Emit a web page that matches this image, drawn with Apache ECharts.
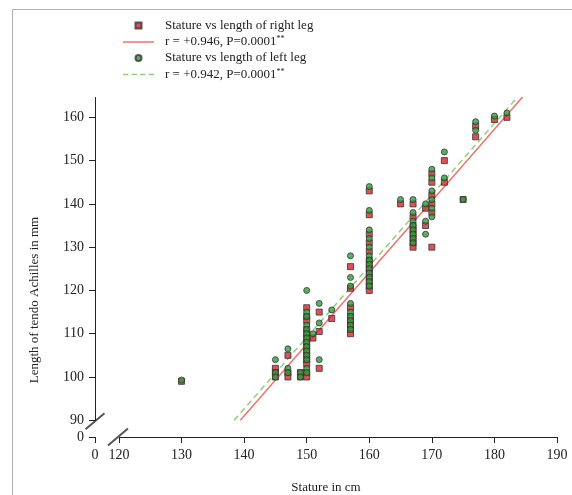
<!DOCTYPE html>
<html>
<head>
<meta charset="utf-8">
<script src="https://cdn.jsdelivr.net/npm/echarts@6/dist/echarts.min.js"></script>
<style>html,body{margin:0;padding:0;background:#fff}#c{width:572px;height:495px}</style>
</head>
<body>
<div id="c"></div>
<script>
// Right leg data (stature cm, tendo Achilles mm)
const rightStature = [130,145,145,145,147,147,147,149,149,
  150,150,150,150,150,150,150,150,150,150,150,150,150,150,
  151,152,152,152,154,157,157,157,157,157,157,157,157,
  160,160,160,160,160,160,160,160,160,160,160,160,160,
  165,167,167,167,167,167,167,167,167,169,169,
  170,170,170,170,170,170,172,172,175,177,177,180,182];
const rightLength = [99,102,101,100,105,101,100,101,100,
  116,114,113,111,110,109,108,107,106,105,104,103,101,100,
  109,115,110.5,102,113.5,125.5,120.5,116,114,113,112,111,110,
  143,137.5,133,131,129,127,126,125,124,123,122,121,120,
  140,140,137,135,134,133,132,131,130,139,135,
  147,145,142,140,138,130,150,145,141,158,155.5,159.5,160];
// Left leg data
const leftStature = [130,145,145,145,147,147,147,149,149,
  150,150,150,150,150,150,150,150,150,150,150,150,150,150,
  151,152,152,152,154,157,157,157,157,157,157,157,157,157,
  160,160,160,160,160,160,160,160,160,160,160,160,160,
  165,167,167,167,167,167,167,167,167,169,169,169,
  170,170,170,170,170,170,172,172,175,177,177,180,182];
const leftLength = [99.3,104,101,100,106.5,102,101,101,100,
  120,115,114,112,111,110,109,108,107,106,105,104,102,101,
  110,117,112.5,104,115.5,128,123,121,117,115,114,113,112,111,
  144,138.5,134,132,130,128,127,126,125,124,123,122,121,
  141,141,138,136,135,134,133,132,131,140,136,133,
  148,146,143,141,139,137,152,146,141,159,157,160.3,161];
// Regression line end points
const rightFitX = [139.4, 184.5];
const rightFitY = [90, 164.7];
const leftFitX = [138.4, 183.7];
const leftFitY = [90, 164.7];
// Tick values
const xTicks = [0,120,130,140,150,160,170,180,190];
const yTicks = [0,90,100,110,120,130,140,150,160];

const names = ['Stature vs length of right leg', 'r = +0.946, P=0.0001**',
               'Stature vs length of left leg', 'r = +0.942, P=0.0001**'];
const zip = (a, b) => a.map((v, i) => [v, b[i]]);
const serif = '"Liberation Serif", "DejaVu Serif", serif';

const chart = echarts.init(document.getElementById('c'), null, {renderer: 'canvas'});
const option = {
  animation: false,
  backgroundColor: '#fff',
  textStyle: {fontFamily: serif},
  grid: {left: 95, right: 15, top: 97, bottom: 58, containLabel: false, outerBoundsMode: 'none'},
  legend: {
    orient: 'vertical', left: 118, top: 14,
    itemWidth: 31, itemHeight: 6, itemGap: 3,
    data: [
      {name: names[0], icon: 'path://M0,0h10v10h-10z'},
      {name: names[1], icon: 'path://M0,0h31v1.5h-31z', itemStyle: {color: '#f07070', borderWidth: 0}},
      {name: names[2], icon: 'circle'},
      {name: names[3], icon: 'path://M0,0h5v1.5h-5zM8,0h5v1.5h-5zM16,0h5v1.5h-5zM24,0h5v1.5h-5z', itemStyle: {color: '#90d07a', borderWidth: 0}}
    ],
    textStyle: {fontFamily: serif, fontSize: 13, color: '#222', padding: [0, 0, 0, 6],
      rich: {sup: {fontFamily: serif, fontSize: 8, color: '#222', verticalAlign: 'top', padding: [0, 0, 6, 0]}}},
    formatter: n => n.replace('**', '{sup|**}')
  },
  xAxis: {
    type: 'value', min: 0, max: 190, interval: 10,
    breaks: [{start: 0, end: 120, gap: 3.83}],
    breakArea: {show: false},
    splitLine: {show: false},
    axisLine: {show: true, onZero: false, lineStyle: {color: '#222', width: 1}},
    axisTick: {show: true, length: 6, lineStyle: {color: '#222'}, customValues: xTicks},
    axisLabel: {fontFamily: serif, fontSize: 14, color: '#222', margin: 11, customValues: xTicks},
    name: 'Stature in cm', nameLocation: 'middle', nameGap: 44,
    nameTextStyle: {fontFamily: serif, fontSize: 13, color: '#222'}
  },
  yAxis: {
    type: 'value', min: 0, max: 164.7, interval: 10,
    breaks: [{start: 0, end: 90, gap: 3.87}],
    breakArea: {show: false},
    splitLine: {show: false},
    axisLine: {show: true, onZero: false, lineStyle: {color: '#222', width: 1}},
    axisTick: {show: true, length: 6, lineStyle: {color: '#222'}, customValues: yTicks},
    axisLabel: {fontFamily: serif, fontSize: 14, color: '#222', margin: 11, customValues: yTicks}
  },
  series: [
    {name: names[0], type: 'scatter', symbol: 'rect', symbolSize: 6,
     itemStyle: {color: '#d6252e', borderColor: '#333', borderWidth: 1},
     data: zip(rightStature, rightLength), z: 3},
    {name: names[1], type: 'line', showSymbol: false, symbol: 'none',
     lineStyle: {color: '#f07070', width: 1.5},
     itemStyle: {color: '#f07070'},
     data: zip(rightFitX, rightFitY), z: 2},
    {name: names[2], type: 'scatter', symbol: 'circle', symbolSize: 6,
     itemStyle: {color: '#2e9e3a', borderColor: '#333', borderWidth: 1},
     data: zip(leftStature, leftLength), z: 4},
    {name: names[3], type: 'line', showSymbol: false, symbol: 'none',
     lineStyle: {color: '#90d07a', width: 1.5, type: [6, 4]},
     itemStyle: {color: '#90d07a'},
     data: zip(leftFitX, leftFitY), z: 2}
  ]
};
chart.setOption(option);

// Break marks and frame
const x120 = chart.convertToPixel({xAxisIndex: 0}, 120);
const x0 = chart.convertToPixel({xAxisIndex: 0}, 0);
const y90 = chart.convertToPixel({yAxisIndex: 0}, 90);
const y0 = chart.convertToPixel({yAxisIndex: 0}, 0);
const sx = x120 - 1, sy = y0;
const tx = x0, ty = y90 + 1;
chart.setOption({
  graphic: [
    {type: 'rect', shape: {x: 12.5, y: 9.5, width: 700, height: 700}, style: {fill: 'none', stroke: '#b0b0b0', lineWidth: 1}, silent: true},
    {type: 'line', shape: {x1: sx - 10, y1: sy + 8.5, x2: sx + 10, y2: sy - 8.5}, style: {stroke: '#555', lineWidth: 2}, silent: true},
    {type: 'line', shape: {x1: tx - 9.5, y1: ty + 8, x2: tx + 9.5, y2: ty - 8}, style: {stroke: '#555', lineWidth: 2}, silent: true},
    {type: 'text', x: 35, y: 300, rotation: Math.PI / 2,
     style: {text: 'Length of tendo Achilles in mm', font: '13px ' + serif, fill: '#222', align: 'center', verticalAlign: 'middle'}, silent: true}
  ]
});
</script>
</body>
</html>
